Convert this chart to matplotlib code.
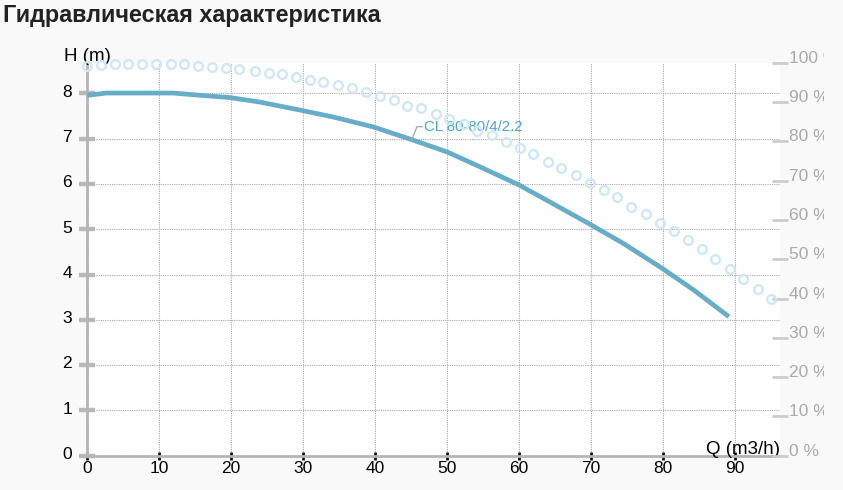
import matplotlib
matplotlib.use('Agg')
import matplotlib.pyplot as plt
from matplotlib.transforms import Bbox, ScaledTranslation

plt.rcParams['font.family'] = ['Liberation Sans', 'DejaVu Sans']

# ========== data ==========
title = 'Гидравлическая характеристика'
curve_name = 'CL 80-80/4/2.2'

# head curve H(Q)
q_head = [0, 2.7, 11.9, 15.7, 19.8, 24.0, 30.0, 34.2, 39.8, 45.3,
          50.0, 54.6, 60.0, 63.9, 69.9, 74.5, 79.9, 84.3, 89.2]
head = [7.96, 8.01, 8.01, 7.96, 7.91, 7.81, 7.62, 7.48, 7.26, 6.97,
        6.71, 6.38, 5.98, 5.64, 5.11, 4.69, 4.14, 3.66, 3.07]

# efficiency points (%)
q_eff = [0, 1.9, 3.8, 5.7, 7.6, 9.5, 11.6, 13.5, 15.4, 17.3,
         19.3, 21.1, 23.3, 25.2, 27.1, 29.0, 30.9, 32.8, 34.9, 36.8,
         38.8, 40.7, 42.6, 44.5, 46.4, 48.5, 50.3, 52.3, 54.2, 56.3,
         58.2, 60.1, 62.0, 64.0, 65.9, 68.0, 69.9, 71.8, 73.7, 75.6,
         77.7, 79.6, 81.5, 83.5, 85.4, 87.2, 89.4, 91.2, 93.2, 95.0]
eff = [99.2, 99.4, 99.6, 99.6, 99.6, 99.7, 99.7, 99.6, 99.2, 99.0,
       98.6, 98.4, 98.0, 97.5, 97.0, 96.3, 95.6, 95.2, 94.3, 93.6,
       92.6, 91.5, 90.5, 89.1, 88.4, 86.9, 85.7, 84.4, 82.7, 81.5,
       79.9, 78.4, 76.8, 74.8, 73.3, 71.4, 69.5, 67.5, 65.7, 63.3,
       61.6, 59.3, 57.1, 54.9, 52.5, 50.0, 47.5, 44.9, 42.4, 39.9]

label_q, label_h = 45.1, 6.97   # where the curve name leader touches

x_ticks = [0, 10, 20, 30, 40, 50, 60, 70, 80, 90]
y_ticks = [0, 1, 2, 3, 4, 5, 6, 7, 8]
pct_ticks = [0, 10, 20, 30, 40, 50, 60, 70, 80, 90, 100]

# ========== figure ==========
fig = plt.figure(figsize=(8.43, 4.9), dpi=100, facecolor='#f9f9f9')
ax = fig.add_axes([87.3 / 843, 34.3 / 490, 692.7 / 843, 393 / 490])
ax.set_facecolor('white')
ax.set_xlim(0, 96.3)
ax.set_ylim(0, 8.68)

for s in ['top', 'right']:
    ax.spines[s].set_visible(False)
ax.spines['left'].set_color('#b5b5b5')
ax.spines['left'].set_linewidth(2)
ax.spines['bottom'].set_color('#b5b5b5')
ax.spines['bottom'].set_linewidth(2)

ax.set_xticks(x_ticks)
ax.set_yticks(y_ticks)
ax.tick_params(axis='y', direction='inout', length=12, width=3.2,
               color='#b8b8b8', labelcolor='black', labelsize=12.5, pad=5)
ax.tick_params(axis='x', direction='inout', length=6, width=2,
               color='#111111', labelcolor='black', labelsize=12.5, pad=1)
ax.grid(True, color='#aaaaaa', linestyle=(0, (1, 1)), linewidth=0.8)
ax.set_axisbelow(True)

up = ScaledTranslation(0, 2 / 72, fig.dpi_scale_trans)
for lab in ax.get_yticklabels():
    lab.set_transform(lab.get_transform() + up)

ax.plot(q_head, head, color='#67adc8', linewidth=3.4, solid_capstyle='butt',
        solid_joinstyle='round', zorder=3)

ax.annotate(curve_name, xy=(label_q, label_h), xytext=(9.2, 9.7),
            textcoords='offset points', ha='left', va='center',
            fontsize=10.8, color='#4da3d8',
            arrowprops=dict(arrowstyle='-', color='#aaaaaa', lw=1,
                            shrinkA=1.5, shrinkB=0, relpos=(0, 0.5),
                            patchA=None,
                            connectionstyle='angle,angleA=0,angleB=69,rad=0'),
            zorder=5)

ax.annotate('H (m)', xy=(0, 1), xycoords='axes fraction', xytext=(-16.6, 1.4),
            textcoords='offset points', ha='left', va='baseline', fontsize=13.5)
ax.annotate('Q (m3/h)', xy=(1, 0), xycoords='axes fraction', xytext=(0, 1.2),
            textcoords='offset points', ha='right', va='baseline', fontsize=13.5)

# efficiency axis
ax2 = ax.twinx()
ax2.set_ylim(0, 100)
for s in ax2.spines.values():
    s.set_visible(False)
ax2.set_yticks(pct_ticks, [f'{v} %' for v in pct_ticks])
ax2.tick_params(axis='y', direction='inout', length=11, width=2,
                color='#cccccc', labelcolor='#aaaaaa', labelsize=12.5, pad=1)
clip = Bbox.from_extents(0, 0, 824, 490)
for lab in ax2.get_yticklabels():
    lab.set_va('baseline')
    lab.set_clip_box(clip)
    lab.set_clip_on(True)

ax2.plot(q_eff, eff, linestyle='none', marker='o', markersize=6.3,
         markerfacecolor='none', markeredgecolor='#d0e7f4',
         markeredgewidth=1.7, clip_on=False)

fig.text(3 / 843, 1 - 22 / 490, title, ha='left', va='baseline',
         fontsize=16.8, fontweight='bold', color='#222222')

fig.savefig('out.png', dpi=100, facecolor=fig.get_facecolor())
